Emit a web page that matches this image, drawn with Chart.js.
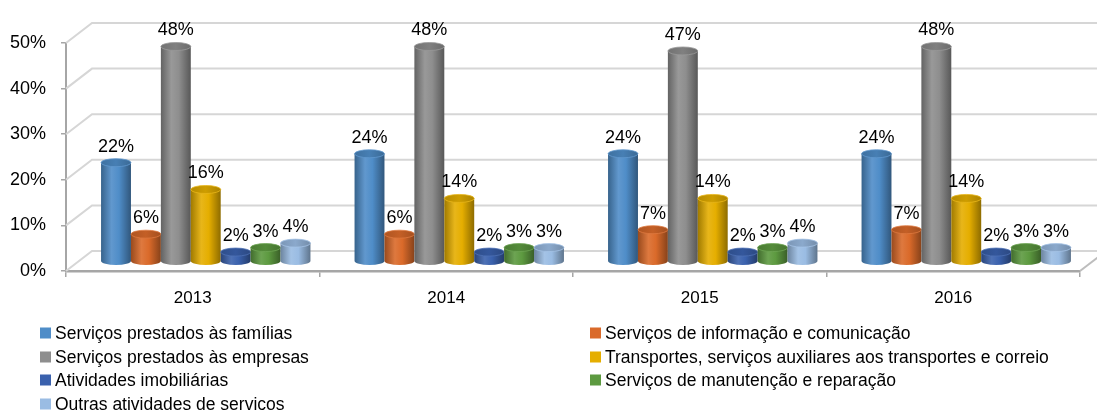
<!DOCTYPE html>
<html>
<head>
<meta charset="utf-8">
<script src="https://cdn.jsdelivr.net/npm/chart.js@4"></script>
<style>
  html, body { margin: 0; padding: 0; background: #fff; }
  #wrap { width: 1097px; height: 412px; }
</style>
</head>
<body>
<div id="wrap"><canvas id="servicos-chart"></canvas></div>
<script>
const years = ['2013', '2014', '2015', '2016'];
const familias = [22, 24, 24, 24];
const informacao = [6, 6, 7, 7];
const empresas = [48, 48, 47, 48];
const transportes = [16, 14, 14, 14];
const imobiliarias = [2, 2, 2, 2];
const manutencao = [3, 3, 3, 3];
const outras = [4, 3, 4, 3];

const seriesNames = [
    'Serviços prestados às famílias',
    'Serviços de informação e comunicação',
    'Serviços prestados às empresas',
    'Transportes, serviços auxiliares aos transportes e correio',
    'Atividades imobiliárias',
    'Serviços de manutenção e reparação',
    'Outras atividades de servicos'
];
const seriesValues = [familias, informacao, empresas, transportes, imobiliarias, manutencao, outras];
const seriesColors = ['#4F8DC8', '#DA6A2A', '#8E8E8E', '#E5AE00', '#3A61AD', '#5D9A40', '#9ABCE3'];

const FONT = '"Liberation Sans", Arial, sans-serif';

function shade(hex, f){
    let r = parseInt(hex.slice(1, 3), 16), g = parseInt(hex.slice(3, 5), 16), b = parseInt(hex.slice(5, 7), 16);
    if (f <= 1) {
        r *= f; g *= f; b *= f;
    } else {
        const t = f - 1;
        r += (255 - r) * t; g += (255 - g) * t; b += (255 - b) * t;
    }
    return `rgb(${Math.round(r)}, ${Math.round(g)}, ${Math.round(b)})`;
}

function drawCylinder(ctx, cx, top, bottom, w, color){
    const rx = w / 2, ry = 4;
    const g = ctx.createLinearGradient(cx - rx, 0, cx + rx, 0);
    g.addColorStop(0, shade(color, 0.7));
    g.addColorStop(0.35, shade(color, 1.1));
    g.addColorStop(0.6, color);
    g.addColorStop(1, shade(color, 0.62));
    ctx.fillStyle = g;
    ctx.beginPath();
    ctx.moveTo(cx - rx, top);
    ctx.lineTo(cx - rx, bottom);
    ctx.ellipse(cx, bottom, rx, ry, 0, Math.PI, 0, true);
    ctx.lineTo(cx + rx, top);
    ctx.closePath();
    ctx.fill();
    // lid
    const lg = ctx.createLinearGradient(cx - rx, 0, cx + rx, 0);
    lg.addColorStop(0, shade(color, 0.8));
    lg.addColorStop(0.5, shade(color, 0.9));
    lg.addColorStop(1, shade(color, 0.75));
    ctx.fillStyle = lg;
    ctx.beginPath();
    ctx.ellipse(cx, top, rx, ry, 0, 0, Math.PI * 2);
    ctx.fill();
    ctx.strokeStyle = shade(color, 1.1);
    ctx.lineWidth = 0.8;
    ctx.stroke();
}

// depth of the bars and of the back wall, in pixels
const barDepth = {dx: 13, dy: -10, k: 0.98};
const wallDepth = {dx: 26, dy: -20};

const wallPlugin = {
    id: 'wall3d',
    beforeDatasetsDraw(chart){
        const {ctx, chartArea} = chart;
        const y = chart.scales.y;
        ctx.save();
        ctx.strokeStyle = '#d6d6d6';
        ctx.lineWidth = 2;
        y.ticks.forEach(t => {
            const py = y.getPixelForValue(t.value);
            ctx.beginPath();
            ctx.moveTo(chartArea.left, py);
            ctx.lineTo(chartArea.left + wallDepth.dx, py + wallDepth.dy);
            ctx.lineTo(chart.width + 20, py + wallDepth.dy);
            ctx.stroke();
        });
        // floor
        const p0 = y.getPixelForValue(0);
        ctx.strokeStyle = '#bdbdbd';
        ctx.beginPath();
        ctx.moveTo(chartArea.right, p0);
        ctx.lineTo(chartArea.right + wallDepth.dx, p0 + wallDepth.dy);
        ctx.stroke();
        ctx.restore();
    },
    beforeDatasetDraw(){
        return false;
    },
    afterDatasetsDraw(chart){
        const {ctx} = chart;
        const y = chart.scales.y;
        const p0 = y.getPixelForValue(0);
        ctx.save();
        ctx.font = '18px ' + FONT;
        ctx.textAlign = 'center';
        ctx.textBaseline = 'alphabetic';
        for (let c = 0; c < years.length; c++) {
            for (let d = 0; d < seriesValues.length; d++) {
                const bar = chart.getDatasetMeta(d).data[c];
                const cx = bar.x + barDepth.dx;
                const bottom = p0 + barDepth.dy;
                const top = bottom - (p0 - bar.y) * barDepth.k;
                drawCylinder(ctx, cx, top, bottom, bar.width, seriesColors[d]);
                ctx.fillStyle = '#000';
                ctx.fillText(seriesValues[d][c] + '%', cx, top - 11);
            }
        }
        ctx.restore();
    },
    afterDraw(chart){
        const {ctx} = chart;
        const cols = [40, 590];
        const rows = [333, 357, 380, 404];
        ctx.save();
        ctx.font = '17.5px ' + FONT;
        ctx.textBaseline = 'middle';
        ctx.textAlign = 'left';
        seriesNames.forEach((name, i) => {
            const x = cols[i % 2];
            const yc = rows[Math.floor(i / 2)];
            ctx.fillStyle = seriesColors[i];
            ctx.fillRect(x, yc - 5.5, 11, 11);
            ctx.fillStyle = '#000';
            ctx.fillText(name, x + 15, yc + 1);
        });
        ctx.restore();
    }
};

function displayChart(id){
    const ctx = document.getElementById(id);
    new Chart(ctx, {
        type: 'bar',
        data: {
            labels: years,
            datasets: seriesNames.map((name, i) => ({
                label: name,
                data: seriesValues[i],
                backgroundColor: seriesColors[i],
                categoryPercentage: 0.826,
                barPercentage: 1.0
            }))
        },
        options: {
            responsive: true,
            maintainAspectRatio: false,
            animation: false,
            layout: {padding: {top: 43, right: 17, left: 0, bottom: 0}},
            plugins: {
                legend: {display: false},
                tooltip: {enabled: false}
            },
            scales: {
                x: {
                    afterFit: scale => { scale.height = 141; },
                    grid: {offset: true, drawOnChartArea: false, tickLength: 6, color: '#a6a6a6', lineWidth: 1.5},
                    border: {display: true, color: '#a6a6a6', width: 2.5},
                    ticks: {color: '#000', padding: 11, font: {family: FONT, size: 17}}
                },
                y: {
                    min: 0,
                    max: 50,
                    afterFit: scale => { scale.width = 66; },
                    grid: {drawOnChartArea: false, tickLength: 5, color: '#a6a6a6', lineWidth: 1.5},
                    border: {display: true, color: '#a6a6a6', width: 2},
                    ticks: {
                        stepSize: 10,
                        color: '#000',
                        padding: 15,
                        font: {family: FONT, size: 18},
                        callback: v => v + '%'
                    }
                }
            }
        },
        plugins: [wallPlugin]
    });
}

window.onload = () => displayChart('servicos-chart');
</script>
</body>
</html>
